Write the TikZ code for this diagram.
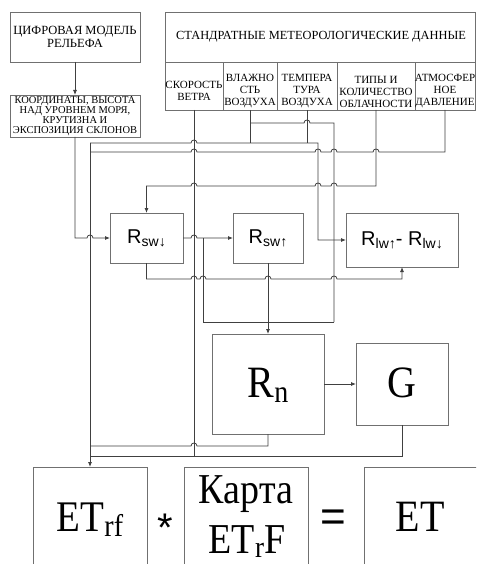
\documentclass[tikz,border=0pt]{standalone}
\usepackage{fontspec}
\usepackage{graphicx}
\setmainfont{Liberation Serif}
\newfontfamily\arialf{Liberation Sans}
\usetikzlibrary{arrows.meta}
\definecolor{boxgray}{HTML}{707070}
\definecolor{wiregray}{HTML}{404040}
\newcommand\hopR[2]{-- ({#1-3},#2) .. controls ({#1-3},{#2-4}) and ({#1+3},{#2-4}) .. ({#1+3},#2)}
\newcommand\hopL[2]{-- ({#1+3},#2) .. controls ({#1+3},{#2-4}) and ({#1-3},{#2-4}) .. ({#1-3},#2)}
\newcommand\fsz[2]{\fontsize{#1}{#2}\selectfont}
\newcommand\sansR[1]{{\arialf\fsz{20}{20}R\raisebox{-3pt}{\fsz{14}{14}#1}}}
\newcommand\bigtxt[1]{\scalebox{1}[1.12]{#1}}
\begin{document}
\begin{tikzpicture}[x=1pt,y=-1pt,
 box/.style={draw=boxgray,line width=0.9pt,rectangle,inner sep=0pt,outer sep=0pt,align=center},
 cell/.style={box,minimum height=48},
 celltext/.style={inner sep=0pt,align=center,font=\fsz{11}{12}},
 wire/.style={draw=wiregray,line width=0.8pt},
 arr/.style={wire,-{Latex[length=5pt,width=4pt]}}]
\useasboundingbox (0,0) rectangle (476,564);
\clip (0,0) rectangle (476,564);
\fill[white] (0,0) rectangle (476,564);

% top left
\node[box,minimum width=130,minimum height=50,font=\fsz{12.5}{13}] (dem) at (75,37) {ЦИФРОВАЯ МОДЕЛЬ\\РЕЛЬЕФА};
\node[box,minimum width=130,minimum height=42,font=\fsz{10.5}{10}] (coord) at (75,116) {КООРДИНАТЫ, ВЫСОТА\\НАД УРОВНЕМ МОРЯ,\\КРУТИЗНА И\\ЭКСПОЗИЦИЯ СКЛОНОВ};

% meteo
\node[box,minimum width=310,minimum height=98] (meteo) at (320,61) {};
\node[font=\fsz{12.4}{13}] (title) at (321,37) {СТАНДРАТНЫЕ МЕТЕОРОЛОГИЧЕСКИЕ ДАННЫЕ};
\draw[draw=boxgray,line width=0.9pt] (meteo.west |- 0,62) -- (meteo.east |- 0,62);
\node[cell,minimum width=58] (c1) at (194,86) {};
\node[cell,minimum width=54] (c2) at (250,86) {};
\node[cell,minimum width=60] (c3) at (307,86) {};
\node[cell,minimum width=78] (c4) at (376,86) {};
\node[cell,minimum width=60] (c5) at (445,86) {};
\node[celltext] (ct1) at (194,91) {СКОРОСТЬ\\ВЕТРА};
\node[celltext] (ct2) at (250,91.5) {ВЛАЖНО\\СТЬ\\ВОЗДУХА};
\node[celltext] (ct3) at (307,91.5) {ТЕМПЕРА\\ТУРА\\ВОЗДУХА};
\node[celltext] (ct4) at (376,91.5) {ТИПЫ И\\КОЛИЧЕСТВО\\ОБЛАЧНОСТИ};
\node[celltext] (ct5) at (445,91.5) {АТМОСФЕР\\НОЕ\\ДАВЛЕНИЕ};

% radiation boxes
\node[box,minimum width=73,minimum height=50] (rsd) at (146.5,238) {\sansR{sw↓}};
\node[box,minimum width=70,minimum height=50] (rsu) at (268,238) {\sansR{sw↑}};
\node[box,minimum width=112,minimum height=54] (rlw) at (402,240) {\sansR{lw↑}{\arialf\fsz{20}{20}- }\sansR{lw↓}};
\node[box,minimum width=112,minimum height=100] (rn) at (268,384) {};
\node[anchor=base] (trn) at (268,397) {\bigtxt{\fsz{40}{40}R\raisebox{-5pt}{\fsz{28}{28}n}}};
\node[box,minimum width=92,minimum height=82] (g) at (402,384) {};
\node[anchor=base] (tg) at (402,397) {\bigtxt{\fsz{40}{40}G}};

% bottom row
\node[box,minimum width=114,minimum height=110] (etrf) at (90,522) {};
\node[anchor=base] (tetrf) at (90,531) {\bigtxt{\fsz{39}{39}ET\raisebox{-5pt}{\fsz{28}{28}rf}}};
\node[anchor=base,font=\arialf\fsz{40}{40}] (star) at (165.5,541) {*};
\node[box,minimum width=124,minimum height=110] (karta) at (246,522) {};
\node[anchor=base] (tk1) at (246,503) {\bigtxt{\fsz{38}{38}Карта}};
\node[anchor=base] (tk2) at (247,553) {\bigtxt{\fsz{38}{38}ET\raisebox{-4pt}{\fsz{27}{27}r}F}};
\node[anchor=base,font=\arialf\fsz{44}{44}] (eq) at (333,531) {=};
\node[box,minimum width=114,minimum height=110] (et) at (421,522) {};
\node[anchor=base] (tet) at (420,531) {\bigtxt{\fsz{40}{40}ET}};

% wiring
\draw[arr] (dem.south) -- (coord.north);
\draw[wire] (c1.south) -- (c1.south |- 0,456);
\draw[wire] (c2.south) -- (c2.south |- 0,143);
\draw[wire] (c2.south |- 0,123) \hopR{307}{123} -- (334,123) -- (334,322);
\draw[wire] (c3.south) -- (c3.south |- 0,143);
\draw[arr] (90,143) \hopR{194}{143} -- (318,143) -- (318,240) -- (rlw.west);
\draw[wire] (c5.south) -- (c5.south |- 0,152) \hopL{376}{152} \hopL{334}{152} \hopL{318}{152} \hopL{194}{152} -- (90,152);
\draw[arr] (c4.south) -- (c4.south |- 0,186) \hopL{334}{186} \hopL{318}{186} \hopL{194}{186} -- (rsd.north |- 0,186) -- (rsd.north);
\draw[arr] (coord.south) -- (coord.south |- rsd.west) \hopR{90}{238} -- (rsd.west);
\draw[arr] (rsd.east) \hopR{194}{238} -- (rsu.west);
\draw[wire] (203,238) -- (203,322) -- (334,322);
\draw[arr] (rsd.south) -- (rsd.south |- 0,279) \hopR{194}{279} \hopR{203}{279} \hopR{268}{279} \hopR{334}{279} -- (rlw.south |- 0,279) -- (rlw.south);
\draw[arr] (rsu.south) -- (rn.north);
\draw[arr] (rn.east) -- (g.west);
\draw[wire] (rn.south) -- (rn.south |- 0,446) \hopL{194}{446} -- (90,446);
\draw[wire] (g.south) -- (g.south |- 0,456) -- (90,456);
\draw[arr] (90,143) -- (etrf.north);
\end{tikzpicture}
\end{document}
